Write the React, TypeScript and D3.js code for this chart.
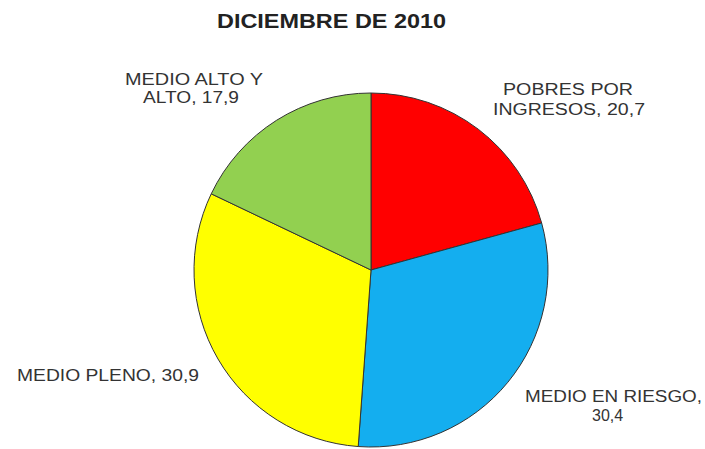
import React from "react";
import * as d3 from "d3";

const categories = ["POBRES POR INGRESOS", "MEDIO EN RIESGO", "MEDIO PLENO", "MEDIO ALTO Y ALTO"];
const values = [20.7, 30.4, 30.9, 17.9];
const colors = ["#FF0000", "#14AEEF", "#FFFF00", "#92D050"];
const labelLines = [
  ["POBRES POR", "INGRESOS, 20,7"],
  ["MEDIO EN RIESGO,", "30,4"],
  ["MEDIO PLENO, 30,9"],
  ["MEDIO ALTO Y", "ALTO, 17,9"],
];
const title = "DICIEMBRE DE 2010";

type Line = { x: number; y: number; w: number };

export default function App() {
  const W = 705, H = 449;
  const cx = 371, cy = 270, r = 177;
  const pie = d3.pie<number>().value((d) => d).sort(null);
  const arcs = pie(values);
  const arc = d3.arc<d3.PieArcDatum<number>>().innerRadius(0).outerRadius(r);
  // start x, baseline y, width for each line (0 = natural width)
  const linePos: Line[][] = [
    [{ x: 503, y: 95, w: 130 }, { x: 493, y: 115, w: 152 }],
    [{ x: 525, y: 402, w: 177 }, { x: 592, y: 421, w: 0 }],
    [{ x: 17, y: 381, w: 182 }],
    [{ x: 125, y: 85, w: 138 }, { x: 143, y: 103, w: 96 }],
  ];
  return (
    <svg width={W} height={H} style={{ position: "absolute", left: 0, top: 0, background: "#fff" }}
      fontFamily="Arial, Liberation Sans, sans-serif">
      <text x={217} y={28} fontSize={21} fontWeight="bold" fill="#222"
        textLength={229} lengthAdjust="spacingAndGlyphs">{title}</text>
      <g transform={`translate(${cx},${cy})`}>
        {arcs.map((a, i) => (
          <path key={categories[i]} d={arc(a) || ""} fill={colors[i]} stroke="#333" strokeWidth={1} />
        ))}
      </g>
      {labelLines.map((lines, i) =>
        lines.map((l, j) => {
          const p = linePos[i][j];
          const extra = p.w > 0 ? { textLength: p.w, lengthAdjust: "spacingAndGlyphs" } : {};
          return (
            <text key={`${i}-${j}`} x={p.x} y={p.y} fontSize={16} fill="#333" {...extra}>{l}</text>
          );
        })
      )}
    </svg>
  );
}
